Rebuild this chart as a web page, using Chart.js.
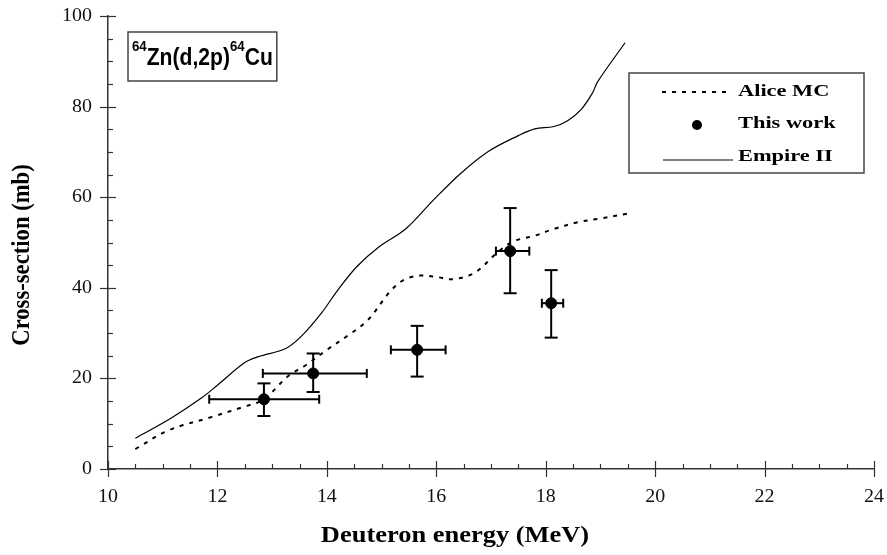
<!DOCTYPE html>
<html>
<head>
<meta charset="utf-8">
<script src="https://cdn.jsdelivr.net/npm/chart.js@4.4.0/dist/chart.umd.min.js"></script>
<style>
  html, body { margin:0; padding:0; background:#fff; }
</style>
</head>
<body>
<canvas id="chart" width="887" height="555"></canvas>
<script>
// ---------- DATA ----------
const X_TICKS = [10,12,14,16,18,20,22,24];
const Y_TICKS = [0,20,40,60,80,100];

// Alice MC (dashed)
const aliceE  = [10.5, 11.1, 11.9, 12.5, 12.85, 13.3, 13.6, 14.0, 14.4, 14.75, 15.15, 15.4, 15.7, 16.0, 16.3, 16.7, 17.1, 17.4, 17.8, 18.1, 18.6, 19.0, 19.5];
const aliceXS = [4.4, 8.5, 11.5, 13.8, 15.4, 20.6, 22.8, 26.3, 29.6, 32.9, 39.1, 41.7, 42.7, 42.4, 41.9, 43.3, 47.6, 50.2, 51.5, 52.8, 54.5, 55.3, 56.4];

// Empire II (solid)
const empireE  = [10.5, 11.15, 11.7, 12.0, 12.5, 12.75, 13.25, 13.55, 13.9, 14.2, 14.55, 14.95, 15.45, 15.95, 16.45, 16.95, 17.5, 17.8, 18.15, 18.4, 18.65, 18.85, 18.95, 19.45];
const empireXS = [6.8, 11.2, 15.6, 18.5, 23.5, 24.8, 26.6, 29.5, 34.4, 39.5, 44.7, 49.0, 53.1, 59.4, 65.3, 70.1, 73.6, 75.1, 75.6, 76.9, 79.4, 82.9, 85.5, 94.1];

// This work (points with error bars)
const workE      = [12.85, 13.75, 15.65, 17.35, 18.1];
const workXS     = [15.4, 21.1, 26.3, 48.1, 36.6];
const workELow   = [11.85, 12.83, 15.17, 17.09, 17.93];
const workEHigh  = [13.86, 14.73, 16.17, 17.70, 18.32];
const workXSLow  = [11.7, 17.0, 20.4, 38.8, 29.0];
const workXSHigh = [18.9, 25.5, 31.6, 57.6, 43.9];

// ---------- HELPERS ----------
const SERIF = '"Liberation Serif", "Times New Roman", serif';
const SANS = '"Liberation Sans", Arial, sans-serif';

function wideText(ctx, txt, x, y, font, align, sx) {
  ctx.save();
  ctx.font = font;
  ctx.textBaseline = 'middle';
  ctx.textAlign = 'left';
  const w = ctx.measureText(txt).width * sx;
  let x0 = x;
  if (align === 'center') x0 = x - w / 2;
  else if (align === 'right') x0 = x - w;
  ctx.translate(x0, y);
  ctx.scale(sx, 1);
  ctx.fillText(txt, 0, 0);
  ctx.restore();
  return w;
}

function line(ctx, x1, y1, x2, y2) {
  ctx.beginPath(); ctx.moveTo(x1, y1); ctx.lineTo(x2, y2); ctx.stroke();
}

// ---------- PLUGINS ----------
const axisPlugin = {
  id: 'axisDecor',
  afterDraw(chart) {
    const {ctx, scales: {x, y}, chartArea: ca} = chart;
    ctx.save();
    ctx.strokeStyle = '#333';
    ctx.lineWidth = 1.2;
    // y ticks: major every 20, minor every 5
    for (let v = 0; v <= 100; v += 5) {
      const py = Math.round(y.getPixelForValue(v)) + 0.5;
      if (v % 20 === 0) line(ctx, ca.left - 8, py, ca.left + 8, py);
      else line(ctx, ca.left, py, ca.left + 5, py);
    }
    // x ticks: major every 2, minor every 0.5
    for (let v = 10; v <= 24.001; v += 0.5) {
      const px = Math.round(x.getPixelForValue(v)) + 0.5;
      if (Math.abs(v % 2) < 1e-6) line(ctx, px, ca.bottom - 8, px, ca.bottom + 8);
      else line(ctx, px, ca.bottom - 5, px, ca.bottom);
    }
    ctx.fillStyle = '#111';
    Y_TICKS.forEach(v => wideText(ctx, String(v), 92, y.getPixelForValue(v), '19px ' + SERIF, 'right', 1.05));
    X_TICKS.forEach(v => wideText(ctx, String(v), x.getPixelForValue(v), 497, '19px ' + SERIF, 'center', 1.05));

    // axis titles
    ctx.fillStyle = '#000';
    wideText(ctx, 'Deuteron energy (MeV)', 455, 536, 'bold 23px ' + SERIF, 'center', 1.15);
    ctx.save();
    ctx.translate(23, 255);
    ctx.rotate(-Math.PI / 2);
    ctx.scale(1.03, 1.1);
    ctx.font = 'bold 22px ' + SERIF;
    ctx.textAlign = 'center';
    ctx.textBaseline = 'middle';
    ctx.fillText('Cross-section (mb)', 0, 0);
    ctx.restore();
    ctx.restore();
  }
};

const errorBarPlugin = {
  id: 'errorBars',
  beforeDatasetsDraw(chart) {
    const {ctx, scales: {x, y}} = chart;
    ctx.save();
    ctx.strokeStyle = '#000';
    ctx.lineWidth = 2;
    workE.forEach((e, i) => {
      const px = x.getPixelForValue(e), py = y.getPixelForValue(workXS[i]);
      const xl = x.getPixelForValue(workELow[i]), xh = x.getPixelForValue(workEHigh[i]);
      const yl = y.getPixelForValue(workXSLow[i]), yh = y.getPixelForValue(workXSHigh[i]);
      line(ctx, xl, py, xh, py);
      line(ctx, xl, py - 4.5, xl, py + 4.5);
      line(ctx, xh, py - 4.5, xh, py + 4.5);
      line(ctx, px, yl, px, yh);
      line(ctx, px - 6.5, yl, px + 6.5, yl);
      line(ctx, px - 6.5, yh, px + 6.5, yh);
    });
    ctx.restore();
  }
};

const annotPlugin = {
  id: 'boxes',
  afterDraw(chart) {
    const ctx = chart.ctx;
    ctx.save();
    // reaction label box
    ctx.fillStyle = '#000';
    let cx = 132;
    cx += wideText(ctx, '64', cx, 47, 'bold 15px ' + SANS, 'left', 0.88);
    cx += wideText(ctx, 'Zn(d,2p)', cx, 58, 'bold 24px ' + SANS, 'left', 0.88);
    cx += wideText(ctx, '64', cx, 47, 'bold 15px ' + SANS, 'left', 0.88);
    cx += wideText(ctx, 'Cu', cx, 58, 'bold 24px ' + SANS, 'left', 0.88);
    ctx.strokeStyle = '#444';
    ctx.lineWidth = 1.5;
    ctx.strokeRect(128, 32, cx + 4 - 128, 49);

    // legend box
    ctx.strokeRect(629, 73, 235, 100);
    ctx.strokeStyle = '#000';
    ctx.lineWidth = 2;
    ctx.setLineDash([4, 6]);
    line(ctx, 662, 92, 730, 92);
    ctx.setLineDash([]);
    ctx.beginPath(); ctx.arc(697, 125, 5, 0, Math.PI * 2); ctx.fill();
    ctx.lineWidth = 1.2;
    line(ctx, 663, 160, 733, 160);
    ['Alice MC', 'This work', 'Empire II'].forEach((t, i) =>
      wideText(ctx, t, 738, [92, 124, 157][i], 'bold 16px ' + SERIF, 'left', 1.4));
    ctx.restore();
  }
};

// ---------- CHART ----------
const pts = (xs, ys) => xs.map((v, i) => ({x: v, y: ys[i]}));

new Chart(document.getElementById('chart'), {
  type: 'scatter',
  data: {
    datasets: [
      { label: 'This work', data: pts(workE, workXS), showLine: false,
        backgroundColor: '#000', borderColor: '#000', pointRadius: 5.5, pointHoverRadius: 5.5 },
      { label: 'Alice MC', data: pts(aliceE, aliceXS), showLine: true, fill: false,
        borderColor: '#000', borderWidth: 2, borderDash: [4, 6], pointRadius: 0, tension: 0.35 },
      { label: 'Empire II', data: pts(empireE, empireXS), showLine: true, fill: false,
        borderColor: '#000', borderWidth: 1.2, pointRadius: 0, tension: 0.35 }
    ]
  },
  options: {
    responsive: false,
    animation: false,
    events: [],
    layout: { padding: { left: 0, right: 13, top: 16, bottom: 0 } },
    plugins: { legend: { display: false }, tooltip: { enabled: false } },
    scales: {
      x: { type: 'linear', min: 10, max: 24,
           grid: { display: false, drawTicks: false },
           border: { display: true, color: '#333', width: 1.5 },
           ticks: { display: false, stepSize: 2 },
           afterFit: s => { s.height = 86; } },
      y: { type: 'linear', min: 0, max: 100,
           grid: { display: false, drawTicks: false },
           border: { display: true, color: '#333', width: 1.5 },
           ticks: { display: false, stepSize: 20 },
           afterFit: s => { s.width = 108; } }
    }
  },
  plugins: [errorBarPlugin, axisPlugin, annotPlugin]
});
</script>
</body>
</html>
